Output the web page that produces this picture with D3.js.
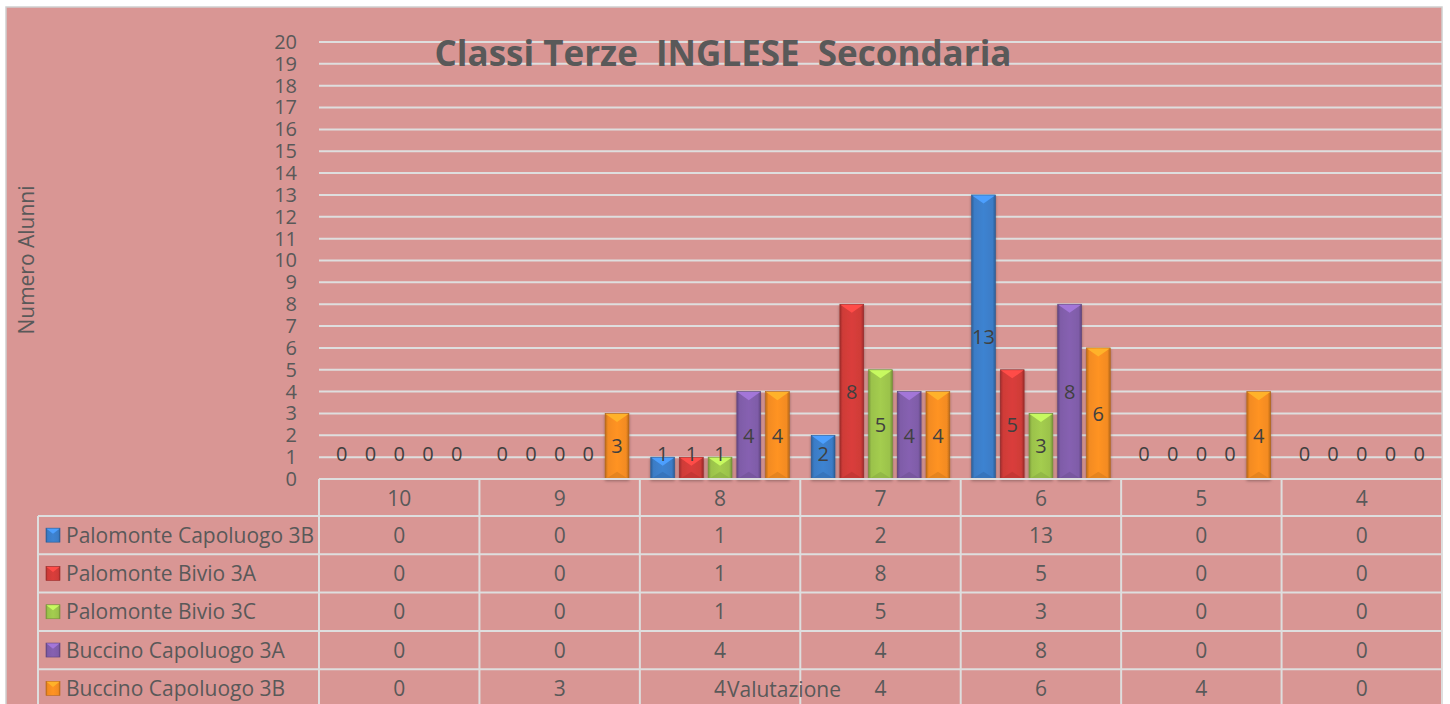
<!DOCTYPE html>
<html>
<head>
<meta charset="utf-8">
<script src="https://cdn.jsdelivr.net/npm/d3@7"></script>
<style>
  html, body { margin: 0; padding: 0; background: #fff; }
  svg { display: block; font-family: "Open Sans", sans-serif; }
</style>
</head>
<body>
<div id="chart"></div>
<script>
// Chart data
const categories = ["10", "9", "8", "7", "6", "5", "4"];
const seriesNames = [
  "Palomonte Capoluogo 3B",
  "Palomonte Bivio 3A",
  "Palomonte Bivio 3C",
  "Buccino Capoluogo 3A",
  "Buccino Capoluogo 3B",
];
const palomonteCapoluogo3B = [0, 0, 1, 2, 13, 0, 0];
const palomonteBivio3A = [0, 0, 1, 8, 5, 0, 0];
const palomonteBivio3C = [0, 0, 1, 5, 3, 0, 0];
const buccinoCapoluogo3A = [0, 0, 4, 4, 8, 0, 0];
const buccinoCapoluogo3B = [0, 3, 4, 4, 6, 4, 0];
const yTicks = [0, 1, 2, 3, 4, 5, 6, 7, 8, 9, 10, 11, 12, 13, 14, 15, 16, 17, 18, 19, 20];

const seriesValues = [
  palomonteCapoluogo3B,
  palomonteBivio3A,
  palomonteBivio3C,
  buccinoCapoluogo3A,
  buccinoCapoluogo3B,
];
const seriesColors = ["#3b7cc6", "#cf3b38", "#9bc24b", "#7f5ca8", "#f38b21"];

const props = {
  width: 1450,
  height: 704,
  plotLeft: 319,
  plotRight: 1442,
  plotTop: 42,
  plotBottom: 479,
  headerBottom: 516,
  rowHeight: 38.3,
  tableLeft: 38,
  textColor: "#595959",
  labelColor: "#404040",
  lineColor: "#dedede",
  bg: "#d99694",
  tableFont: 21,
};

const svg = d3.select("#chart").append("svg")
  .attr("width", props.width)
  .attr("height", props.height);

const defs = svg.append("defs");

// horizontal bevel gradient per series
seriesColors.forEach((c, i) => {
  const base = d3.color(c);
  const grad = defs.append("linearGradient")
    .attr("id", `bar-grad-${i}`)
    .attr("x1", "0").attr("x2", "1").attr("y1", "0").attr("y2", "0");
  grad.append("stop").attr("offset", "0").attr("stop-color", base.darker(0.7));
  grad.append("stop").attr("offset", "0.12").attr("stop-color", base);
  grad.append("stop").attr("offset", "0.5").attr("stop-color", base.brighter(0.15));
  grad.append("stop").attr("offset", "0.88").attr("stop-color", base);
  grad.append("stop").attr("offset", "1").attr("stop-color", base.darker(0.8));
});

const shadow = defs.append("filter").attr("id", "shadow")
  .attr("x", "-30%").attr("y", "-10%").attr("width", "160%").attr("height", "130%");
shadow.append("feDropShadow")
  .attr("dx", 0).attr("dy", 1.5).attr("stdDeviation", 1.5)
  .attr("flood-color", "#000").attr("flood-opacity", 0.35);

// chart background
svg.append("rect")
  .attr("x", 6).attr("y", 7)
  .attr("width", props.plotRight - 6)
  .attr("height", props.height)
  .attr("fill", props.bg)
  .attr("stroke", "#d0d0d0")
  .attr("stroke-width", 1.5);

// scales
const x = d3.scaleBand()
  .domain(categories)
  .range([props.plotLeft, props.plotRight])
  .padding(0);

const x1 = d3.scaleBand()
  .domain(d3.range(seriesNames.length))
  .range([0, x.bandwidth()])
  .paddingInner(0.17)
  .paddingOuter(0.38);

const y = d3.scaleLinear()
  .domain([0, 20])
  .range([props.plotBottom, props.plotTop]);

// gridlines
svg.append("g")
  .selectAll("line")
  .data(yTicks.filter((d) => d > 0))
  .join("line")
  .attr("x1", props.plotLeft)
  .attr("x2", props.plotRight)
  .attr("y1", (d) => y(d))
  .attr("y2", (d) => y(d))
  .attr("stroke", props.lineColor)
  .attr("stroke-width", 2);

// y axis labels
const yAxis = d3.axisLeft(y).tickValues(yTicks).tickSize(0).tickPadding(0);
svg.append("g")
  .attr("transform", `translate(${props.plotLeft - 22},0)`)
  .call(yAxis)
  .call((g) => g.select(".domain").remove())
  .call((g) => g.selectAll("text")
    .attr("fill", props.textColor)
    .attr("font-size", 20)
    .attr("font-family", "Open Sans, sans-serif"));

// y axis title
svg.append("text")
  .attr("transform", `translate(34, 260) rotate(-90)`)
  .attr("text-anchor", "middle")
  .attr("fill", props.textColor)
  .attr("font-size", 21)
  .text("Numero Alunni");

// title
svg.append("text")
  .attr("x", 723)
  .attr("y", 66)
  .attr("text-anchor", "middle")
  .attr("fill", props.textColor)
  .attr("font-size", 35)
  .attr("font-weight", "bold")
  .attr("xml:space", "preserve")
  .style("white-space", "pre")
  .text("Classi Terze  INGLESE  Secondaria");

// bars
const barData = [];
seriesValues.forEach((vals, si) => {
  vals.forEach((v, ci) => barData.push({ s: si, c: categories[ci], v }));
});

const bars = svg.append("g")
  .selectAll("g")
  .data(barData.filter((d) => d.v > 0))
  .join("g")
  .attr("transform", (d) => `translate(${x(d.c) + x1(d.s)},${y(d.v)})`);

const bw = x1.bandwidth();

bars.append("rect")
  .attr("width", bw)
  .attr("height", (d) => y(0) - y(d.v))
  .attr("fill", (d) => `url(#bar-grad-${d.s})`)
  .attr("stroke", (d) => d3.color(seriesColors[d.s]).darker(0.9))
  .attr("stroke-width", 0.6)
  .attr("filter", "url(#shadow)");

// light chevron on top
bars.append("path")
  .attr("d", `M0.5,0.5 L${bw - 0.5},0.5 L${bw / 2},${bw * 0.36} Z`)
  .attr("fill", (d) => d3.color(seriesColors[d.s]).brighter(0.7));

// dark chevron at bottom
bars.append("path")
  .attr("d", (d) => {
    const h = y(0) - y(d.v);
    return `M0.5,${h} L${bw - 0.5},${h} L${bw / 2},${h - bw * 0.3} Z`;
  })
  .attr("fill", (d) => d3.color(seriesColors[d.s]).darker(0.35))
  .attr("opacity", 0.6);

// data labels
svg.append("g")
  .selectAll("text")
  .data(barData)
  .join("text")
  .attr("x", (d) => x(d.c) + x1(d.s) + bw / 2)
  .attr("y", (d) => Math.min((y(0) + y(d.v)) / 2, props.plotBottom - 25))
  .attr("dy", "0.36em")
  .attr("text-anchor", "middle")
  .attr("fill", props.labelColor)
  .attr("font-size", 20)
  .text((d) => d.v);

// data table
const table = svg.append("g");
const nRows = seriesNames.length;
const rowY = (i) => props.headerBottom + i * props.rowHeight;

// horizontal lines
table.append("line")
  .attr("x1", props.plotLeft).attr("x2", props.plotRight)
  .attr("y1", props.plotBottom).attr("y2", props.plotBottom)
  .attr("stroke", props.lineColor).attr("stroke-width", 2);

table.selectAll(".hline")
  .data(d3.range(nRows + 1))
  .join("line")
  .attr("class", "hline")
  .attr("x1", props.tableLeft).attr("x2", props.plotRight)
  .attr("y1", (i) => rowY(i)).attr("y2", (i) => rowY(i))
  .attr("stroke", props.lineColor).attr("stroke-width", 2);

// vertical lines
table.selectAll(".vline")
  .data(categories.concat(["end"]))
  .join("line")
  .attr("class", "vline")
  .attr("x1", (d) => (d === "end" ? props.plotRight : x(d)))
  .attr("x2", (d) => (d === "end" ? props.plotRight : x(d)))
  .attr("y1", props.plotBottom).attr("y2", props.height + 10)
  .attr("stroke", props.lineColor).attr("stroke-width", 2);

table.append("line")
  .attr("x1", props.tableLeft).attr("x2", props.tableLeft)
  .attr("y1", props.headerBottom).attr("y2", props.height + 10)
  .attr("stroke", props.lineColor).attr("stroke-width", 2);

// category header
table.selectAll(".cat")
  .data(categories)
  .join("text")
  .attr("class", "cat")
  .attr("x", (d) => x(d) + x.bandwidth() / 2)
  .attr("y", (props.plotBottom + props.headerBottom) / 2 + 1)
  .attr("dy", "0.36em")
  .attr("text-anchor", "middle")
  .attr("fill", props.textColor)
  .attr("font-size", props.tableFont)
  .text((d) => d);

// rows
const rows = table.selectAll(".row")
  .data(seriesNames)
  .join("g")
  .attr("class", "row")
  .attr("transform", (d, i) => `translate(0,${rowY(i) + props.rowHeight / 2})`);

const sw = 14;
const legendKey = rows.append("g")
  .attr("transform", `translate(46,${-sw / 2})`);
legendKey.append("rect")
  .attr("width", sw).attr("height", sw)
  .attr("fill", (d, i) => `url(#bar-grad-${i})`)
  .attr("stroke", (d, i) => d3.color(seriesColors[i]).darker(0.8))
  .attr("stroke-width", 0.6);
legendKey.append("path")
  .attr("d", `M0.5,0.5 L${sw - 0.5},0.5 L${sw / 2},${sw * 0.4} Z`)
  .attr("fill", (d, i) => d3.color(seriesColors[i]).brighter(0.7));

rows.append("text")
  .attr("x", 66)
  .attr("dy", "0.36em")
  .attr("fill", props.textColor)
  .attr("font-size", props.tableFont)
  .text((d) => d);

rows.selectAll(".val")
  .data((d, i) => seriesValues[i].map((v, ci) => ({ v, c: categories[ci] })))
  .join("text")
  .attr("class", "val")
  .attr("x", (d) => x(d.c) + x.bandwidth() / 2)
  .attr("dy", "0.36em")
  .attr("text-anchor", "middle")
  .attr("fill", props.textColor)
  .attr("font-size", props.tableFont)
  .text((d) => d.v);

// x axis title (overlaps the table as in the original)
svg.append("text")
  .attr("x", 784)
  .attr("y", 697)
  .attr("text-anchor", "middle")
  .attr("fill", props.textColor)
  .attr("font-size", props.tableFont)
  .text("Valutazione");
</script>
</body>
</html>
